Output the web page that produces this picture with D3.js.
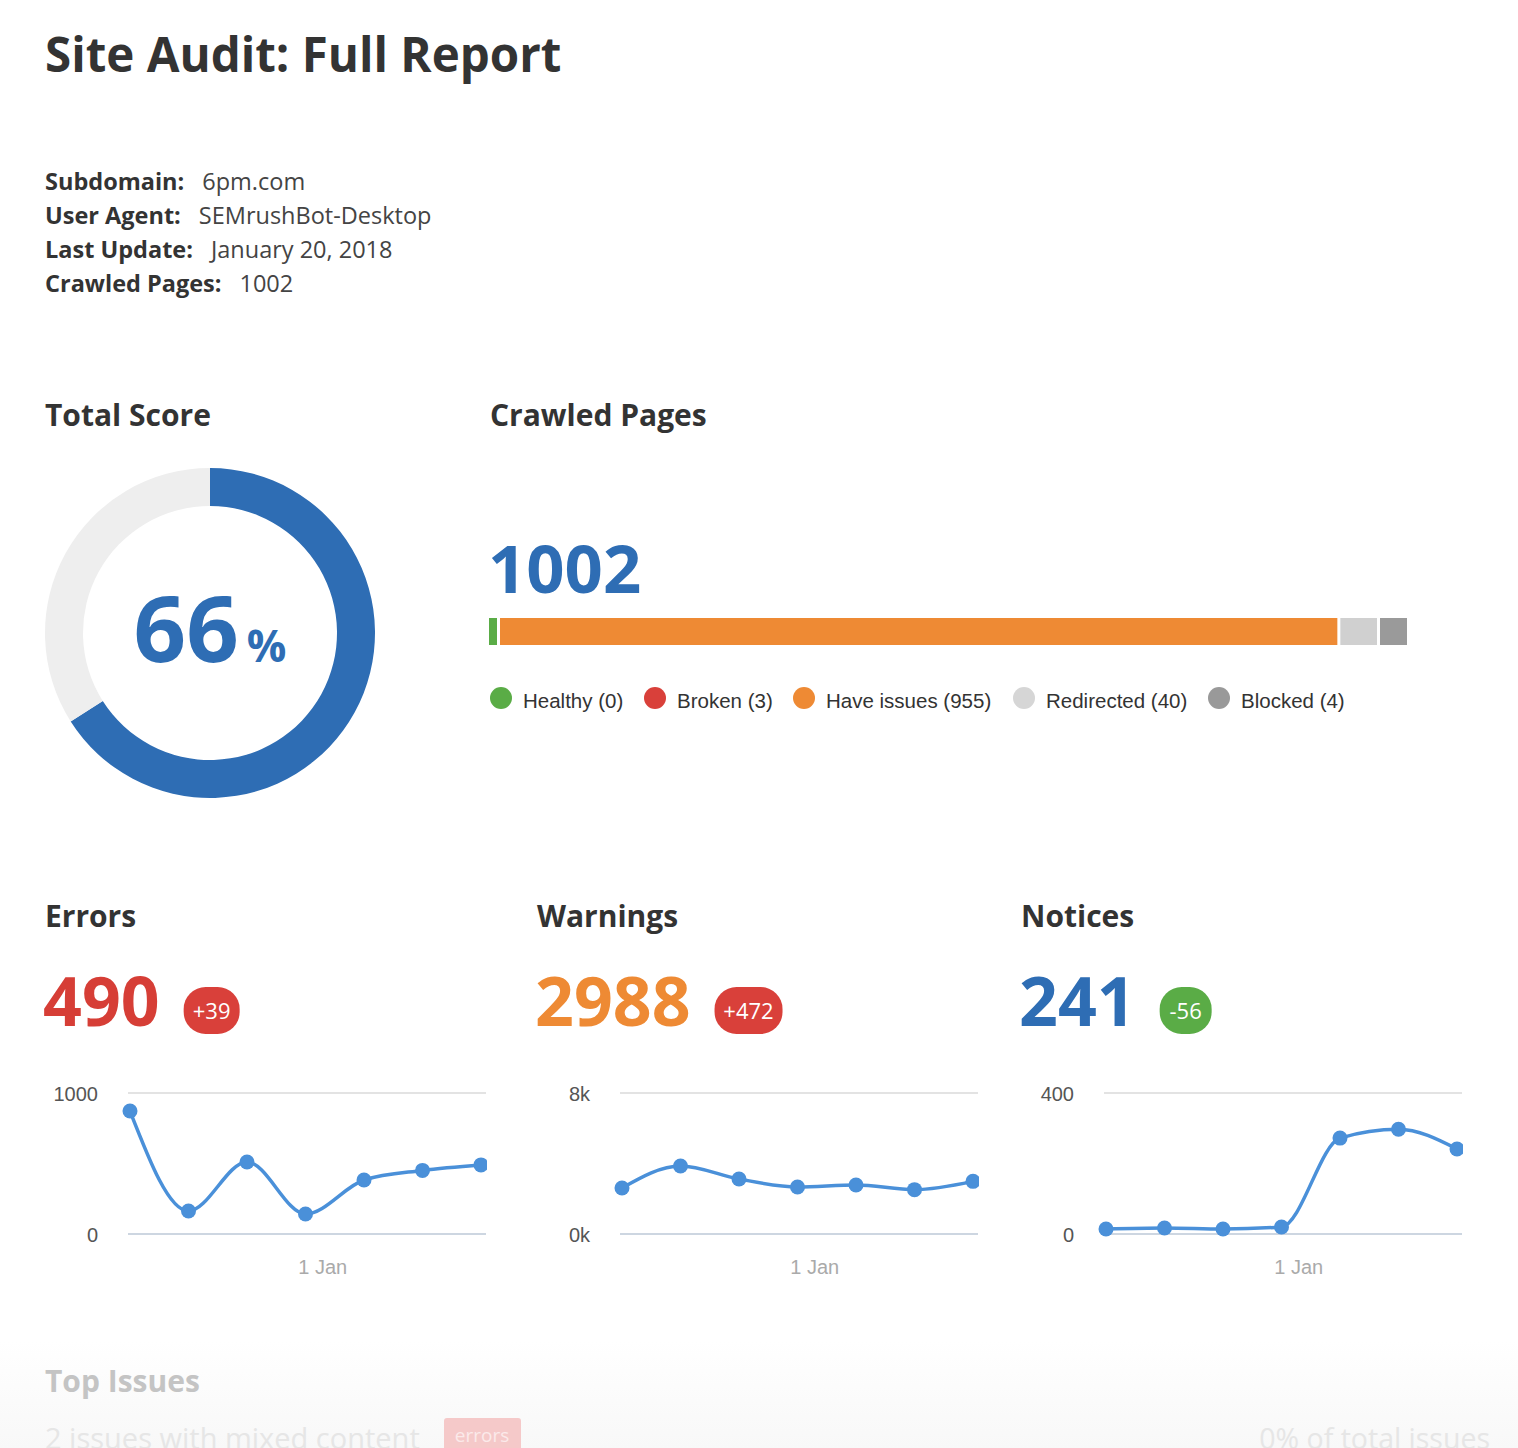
<!DOCTYPE html>
<html>
<head>
<meta charset="utf-8">
<script src="https://cdn.jsdelivr.net/npm/d3@7"></script>
<style>
  html, body { margin: 0; padding: 0; background: #ffffff; }
  svg { display: block; }
  .os { font-family: "Open Sans", "Noto Sans", sans-serif; }
  .ar { font-family: "Liberation Sans", Arial, sans-serif; }
</style>
</head>
<body>
<svg id="chart" width="1518" height="1448"></svg>
<script>
// ---------------- data ----------------
const reportTitle = "Site Audit: Full Report";
const metaLabels = ["Subdomain:", "User Agent:", "Last Update:", "Crawled Pages:"];
const metaValues = ["6pm.com", "SEMrushBot-Desktop", "January 20, 2018", "1002"];

const totalScore = 66;           // percent
const crawledTotal = 1002;
const pageCategories = ["Healthy", "Broken", "Have issues", "Redirected", "Blocked"];
const pageCounts = [0, 3, 955, 40, 4];

const issueTitles = ["Errors", "Warnings", "Notices"];
const issueTotals = [490, 2988, 241];
const issueDeltas = ["+39", "+472", "-56"];

const trendDates = ["2017-12-09", "2017-12-16", "2017-12-23", "2017-12-30", "2018-01-06", "2018-01-13", "2018-01-20"];
const errorsSeries = [872, 163, 511, 142, 383, 451, 490];
const warningsSeries = [2610, 3860, 3120, 2670, 2780, 2516, 2988];
const noticesSeries = [14, 17, 14, 20, 272, 297, 241];
const yMaxes = [1000, 8000, 400];
const yTickLabels = [["0", "1000"], ["0k", "8k"], ["0", "400"]];
const xTickDates = ["2018-01-01"];

const topIssuesTitle = "Top Issues";
const topIssueRow = ["2 issues with mixed content", "errors", "0% of total issues"];

// ---------------- styles ----------------
const C = {
  dark: "#333333", text: "#444444", blue: "#2e6db4", red: "#d63e36", orange: "#ee8a34",
  green: "#5aac46", lightGray: "#d0d0d0", midGray: "#9a9a9a", ring: "#eeeeee",
  line: "#4a90d9", grid: "#e3e3e3", axis: "#cdd6e1", tickText: "#555555", dateText: "#aaaaaa"
};
const segColors = [C.green, C.red, C.orange, C.lightGray, C.midGray];
const legendColors = [C.green, "#d9403a", C.orange, "#d6d6d6", "#999999"];
const segMinPx = [8, 0, 0, 34, 27];
const segHidePx = 3;
const totalColors = [C.red, C.orange, C.blue];
const badgeColors = ["#d9403a", "#d9403a", "#5aac46"];

const svg = d3.select("#chart");
const parse = d3.timeParse("%Y-%m-%d");

// ---------------- header ----------------
svg.append("text").attr("class", "os").attr("x", 45).attr("y", 72)
  .attr("font-size", 47.5).attr("font-weight", 700).attr("fill", C.dark).text(reportTitle);

const meta = svg.append("g");
metaLabels.forEach((lab, i) => {
  const t = meta.append("text").attr("class", "os").attr("x", 45).attr("y", 190 + i * 34)
    .attr("font-size", 23.5);
  t.append("tspan").attr("font-weight", 700).attr("fill", C.dark).text(lab);
  t.append("tspan").attr("dx", 18).attr("fill", C.text).text(metaValues[i]);
});

// ---------------- section titles ----------------
[["Total Score", 45], ["Crawled Pages", 490]].forEach(([s, x]) => {
  svg.append("text").attr("class", "os").attr("x", x).attr("y", 426)
    .attr("font-size", 30).attr("font-weight", 700).attr("fill", C.dark).text(s);
});

// ---------------- donut ----------------
const donut = svg.append("g").attr("transform", "translate(210,633)");
const pie = d3.pie().sort(null).value(d => d);
const arc = d3.arc().innerRadius(127).outerRadius(165);
donut.selectAll("path").data(pie([totalScore, 100 - totalScore])).join("path")
  .attr("d", arc).attr("fill", (d, i) => i === 0 ? C.blue : C.ring);
const st = donut.append("text").attr("class", "os").attr("text-anchor", "middle").attr("y", 29)
  .attr("font-weight", 700).attr("fill", C.blue);
st.append("tspan").attr("font-size", 92).text(totalScore);
st.append("tspan").attr("font-size", 44).attr("dx", 8).text("%");

// ---------------- crawled pages bar ----------------
svg.append("text").attr("class", "os").attr("x", 488).attr("y", 593)
  .attr("font-size", 67).attr("font-weight", 700).attr("fill", C.blue).text(crawledTotal);

const barX0 = 489, barX1 = 1407, barY = 618, barH = 27, gap = 3;
const xBar = d3.scaleLinear().domain([0, d3.sum(pageCounts)]).range([0, barX1 - barX0]);
let widths = pageCounts.map((v, i) => i === 2 ? 0 : Math.max(xBar(v) < segHidePx ? 0 : xBar(v), segMinPx[i]));
const visibleCount = pageCounts.filter((v, i) => i === 2 || widths[i] > 0).length;
widths[2] = (barX1 - barX0) - d3.sum(widths) - gap * (visibleCount - 1);
let cur = barX0;
const segs = [];
widths.forEach((w, i) => { if (w > 0) { segs.push({ x: cur, w, c: segColors[i] }); cur += w + gap; } });
svg.append("g").selectAll("rect").data(segs).join("rect")
  .attr("x", d => d.x).attr("y", barY).attr("width", d => d.w).attr("height", barH).attr("fill", d => d.c);

// legend
const legendX = [501, 655, 804, 1024, 1219];
const lg = svg.append("g");
pageCategories.forEach((cat, i) => {
  lg.append("circle").attr("cx", legendX[i]).attr("cy", 698).attr("r", 11).attr("fill", legendColors[i]);
  lg.append("text").attr("class", "ar").attr("x", legendX[i] + 22).attr("y", 708)
    .attr("font-size", 20.5).attr("fill", C.dark).text(`${cat} (${pageCounts[i]})`);
});

// ---------------- issue panels ----------------
const panelX = [45, 537, 1021];
const seriesList = [errorsSeries, warningsSeries, noticesSeries];
const dates = trendDates.map(parse);
const badgeW = [56, 68, 52];

seriesList.forEach((series, p) => {
  const g = svg.append("g").attr("transform", `translate(${panelX[p]},0)`);
  g.append("text").attr("class", "os").attr("x", 0).attr("y", 927)
    .attr("font-size", 30).attr("font-weight", 700).attr("fill", C.dark).text(issueTitles[p]);
  const tot = g.append("text").attr("class", "os").attr("x", -2).attr("y", 1026)
    .attr("font-size", 68).attr("font-weight", 700).attr("fill", totalColors[p]).text(issueTotals[p]);
  const tw = tot.node().getComputedTextLength();
  const bx = tw + 22;
  g.append("rect").attr("x", bx).attr("y", 987).attr("width", badgeW[p]).attr("height", 47)
    .attr("rx", 22).attr("fill", badgeColors[p]);
  g.append("text").attr("class", "os").attr("x", bx + badgeW[p] / 2).attr("y", 1019)
    .attr("text-anchor", "middle").attr("font-size", 22).attr("fill", "#ffffff").text(issueDeltas[p]);

  // chart
  const x = d3.scaleTime().domain([dates[0], dates[dates.length - 1]]).range([85, 436]);
  const y = d3.scaleLinear().domain([0, yMaxes[p]]).range([1234, 1093]);
  // gridlines
  g.append("line").attr("x1", 83).attr("x2", 441).attr("y1", y(yMaxes[p])).attr("y2", y(yMaxes[p]))
    .attr("stroke", C.grid).attr("stroke-width", 2);
  g.append("line").attr("x1", 83).attr("x2", 441).attr("y1", y(0)).attr("y2", y(0))
    .attr("stroke", C.axis).attr("stroke-width", 2);
  // y labels
  [0, yMaxes[p]].forEach((v, k) => {
    g.append("text").attr("class", "ar").attr("x", 53).attr("y", y(v) + 8)
      .attr("text-anchor", "end").attr("font-size", 20).attr("fill", C.tickText).text(yTickLabels[p][k]);
  });
  // x axis
  const xAxis = d3.axisBottom(x).tickValues(xTickDates.map(parse)).tickFormat(d3.timeFormat("%-d %b")).tickSize(0);
  const ax = g.append("g").attr("transform", "translate(0,1252)").call(xAxis);
  ax.select(".domain").remove();
  ax.selectAll("text").attr("class", "ar").attr("font-size", 20).attr("fill", C.dateText).attr("dy", 0).attr("y", 22);

  // clip
  const cid = "clip" + p;
  g.append("clipPath").attr("id", cid).append("rect").attr("x", 70).attr("y", 1070).attr("width", 372).attr("height", 200);
  const pl = g.append("g").attr("clip-path", `url(#${cid})`);
  const line = d3.line().x((d, i) => x(dates[i])).y(d => y(d)).curve(d3.curveMonotoneX);
  pl.append("path").attr("d", line(series)).attr("fill", "none").attr("stroke", C.line).attr("stroke-width", 3.5);
  pl.selectAll("circle").data(series).join("circle")
    .attr("cx", (d, i) => x(dates[i])).attr("cy", d => y(d)).attr("r", 7.5).attr("fill", C.line);
});

// ---------------- faded top issues ----------------
const defs = svg.append("defs");
const grad = defs.append("linearGradient").attr("id", "fade").attr("x1", 0).attr("x2", 0).attr("y1", 0).attr("y2", 1);
grad.append("stop").attr("offset", "0%").attr("stop-color", "#ffffff");
grad.append("stop").attr("offset", "100%").attr("stop-color", "#f8f8f8");
svg.append("rect").attr("x", 0).attr("y", 1340).attr("width", 1518).attr("height", 108).attr("fill", "url(#fade)");
svg.append("text").attr("class", "os").attr("x", 45).attr("y", 1392)
  .attr("font-size", 30).attr("font-weight", 700).attr("fill", "#c4c4c4").text(topIssuesTitle);
svg.append("text").attr("class", "os").attr("x", 45).attr("y", 1449)
  .attr("font-size", 29).attr("fill", "#e6e6e6").text(topIssueRow[0]);
svg.append("rect").attr("x", 444).attr("y", 1418).attr("width", 77).attr("height", 40).attr("rx", 3).attr("fill", "#f5c9c9");
svg.append("text").attr("class", "os").attr("x", 482).attr("y", 1442).attr("text-anchor", "middle")
  .attr("font-size", 19).attr("fill", "#fbeaea").text(topIssueRow[1]);
svg.append("text").attr("class", "os").attr("x", 1490).attr("y", 1449).attr("text-anchor", "end")
  .attr("font-size", 28.5).attr("fill", "#e6e6e6").text(topIssueRow[2]);
</script>
</body>
</html>
